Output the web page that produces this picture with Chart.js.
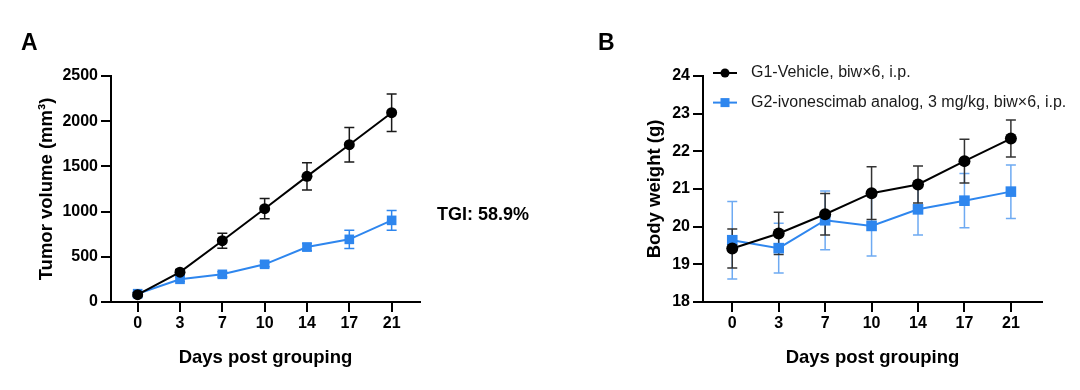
<!DOCTYPE html>
<html>
<head>
<meta charset="utf-8">
<script src="https://cdn.jsdelivr.net/npm/chart.js@4.4.1/dist/chart.umd.min.js"></script>
<style>
  html, body { margin: 0; padding: 0; background: #fff; }
  #wrap { position: relative; width: 1080px; height: 390px; overflow: hidden; background: #fff; }
  .pane { position: absolute; top: 0; width: 540px; height: 390px; }
</style>
</head>
<body>
<div id="wrap">
  <div class="pane" style="left:0"><canvas id="cA" width="540" height="390"></canvas></div>
  <div class="pane" style="left:540px"><canvas id="cB" width="540" height="390"></canvas></div>
</div>
<script>
// ---------- data ----------
const days = ["0", "3", "7", "10", "14", "17", "21"];

const tumorVehicle    = [81, 330, 678, 1032, 1390, 1740, 2094];
const tumorVehicleErr = [20, 30, 83, 112, 151, 190, 207];
const tumorTreated    = [92, 251, 306, 417, 608, 693, 903];
const tumorTreatedErr = [18, 25, 30, 28, 40, 100, 109];

const weightVehicle    = [19.42, 19.82, 20.33, 20.89, 21.12, 21.74, 22.34];
const weightVehicleErr = [0.52, 0.56, 0.55, 0.70, 0.49, 0.58, 0.49];
const weightTreated    = [19.64, 19.43, 20.17, 20.02, 20.46, 20.69, 20.93];
const weightTreatedErr = [1.03, 0.66, 0.78, 0.80, 0.68, 0.72, 0.71];

const tumorTicks  = [0, 500, 1000, 1500, 2000, 2500];
const weightTicks = [18, 19, 20, 21, 22, 23, 24];

const seriesNames = ["G1-Vehicle, biw\u00d76, i.p.", "G2-ivonescimab analog, 3 mg/kg, biw\u00d76, i.p."];
const panelA = "A", panelB = "B";
const tgiText = "TGI: 58.9%";
const xTitle = "Days post grouping";
const yTitleA = "Tumor volume (mm\u00b3)";
const yTitleB = "Body weight (g)";

// ---------- styles ----------
const FONT = "'Liberation Sans', Arial, Helvetica, sans-serif";
const BLACK = "#000000";
const BLUE = "#2e86ee";

function toXY(arr) { return arr.map((v, i) => ({ x: i, y: v })); }

const errorBarPlugin = {
  id: 'errbars',
  beforeDatasetsDraw(chart, args, opts) {
    const ctx = chart.ctx;
    const xs = chart.scales.x, ys = chart.scales.y;
    const errs = opts.errors || [];
    for (let d = chart.data.datasets.length - 1; d >= 0; d--) {
      const ds = chart.data.datasets[d];
      const e = errs[d]; if (!e) continue;
      ctx.save();
      ctx.strokeStyle = opts.colors[d];
      ctx.lineWidth = opts.width || 1.5;
      const cap = opts.cap || 5;
      ds.data.forEach((p, i) => {
        const x = xs.getPixelForValue(p.x);
        const yt = ys.getPixelForValue(p.y + e[i]);
        const yb = ys.getPixelForValue(p.y - e[i]);
        ctx.beginPath();
        ctx.moveTo(x, yt); ctx.lineTo(x, yb);
        ctx.moveTo(x - cap, yt); ctx.lineTo(x + cap, yt);
        ctx.moveTo(x - cap, yb); ctx.lineTo(x + cap, yb);
        ctx.stroke();
      });
      ctx.restore();
    }
  }
};

const textPlugin = {
  id: 'texts',
  afterDraw(chart, args, opts) {
    const ctx = chart.ctx;
    (opts.items || []).forEach(t => {
      ctx.save();
      ctx.font = t.font;
      ctx.fillStyle = t.color || '#000';
      ctx.textAlign = t.align || 'left';
      ctx.textBaseline = 'middle';
      ctx.fillText(t.text, t.x(chart), t.y(chart));
      ctx.restore();
    });
  }
};

const legendPlugin = {
  id: 'customLegend',
  afterDraw(chart, args, opts) {
    if (!opts.show) return;
    const ctx = chart.ctx;
    const area = chart.chartArea;
    chart.data.datasets.forEach((ds, i) => {
      const y = opts.top + i * opts.rowGap;
      const x0 = area.left + opts.lineStart;
      const x1 = x0 + opts.lineLen;
      const xm = (x0 + x1) / 2;
      ctx.save();
      ctx.strokeStyle = ds.borderColor;
      ctx.fillStyle = ds.borderColor;
      ctx.lineWidth = 2;
      ctx.beginPath(); ctx.moveTo(x0, y); ctx.lineTo(x1, y); ctx.stroke();
      if (ds.pointStyle === 'rect') {
        ctx.fillRect(xm - 4.5, y - 4.5, 9, 9);
      } else {
        ctx.beginPath(); ctx.arc(xm, y, 4.5, 0, Math.PI * 2); ctx.fill();
      }
      ctx.font = "16px " + FONT;
      ctx.fillStyle = '#1a1a1a';
      ctx.textAlign = 'left';
      ctx.textBaseline = 'middle';
      ctx.fillText(ds.label, x1 + opts.textGap, y);
      ctx.restore();
    });
  }
};

function makeOptions(cfg) {
  return {
    responsive: false,
    devicePixelRatio: 1,
    animation: false,
    layout: { padding: { top: 76, right: cfg.padRight, bottom: 0, left: 0 } },
    plugins: {
      legend: { display: false },
      tooltip: { enabled: false },
      errbars: cfg.errbars,
      texts: { items: cfg.texts },
      customLegend: cfg.legend || { show: false }
    },
    scales: {
      x: {
        type: 'linear',
        min: -0.63, max: 6.67,
        afterBuildTicks: (s) => { s.ticks = days.map((d, i) => ({ value: i })); },
        afterFit: (s) => { s.height = 88; },
        ticks: {
          autoSkip: false, maxRotation: 0, padding: 2,
          color: '#000',
          font: { family: FONT, size: 16, weight: 'bold' },
          callback: (v) => days[v]
        },
        grid: { drawOnChartArea: false, drawTicks: true, tickLength: 10, color: '#000', lineWidth: 2 },
        border: { display: true, color: '#000', width: 2 },
        title: {
          display: true, text: xTitle, color: '#000',
          font: { family: FONT, size: 18.5, weight: 'bold' },
          padding: { top: 0, bottom: 21 }
        }
      },
      y: {
        type: 'linear',
        min: cfg.yTicks[0], max: cfg.yTicks[cfg.yTicks.length - 1],
        afterBuildTicks: (s) => { s.ticks = cfg.yTicks.map(v => ({ value: v })); },
        afterFit: (s) => { s.width = cfg.yWidth; },
        ticks: {
          autoSkip: false, padding: 3, color: '#000',
          font: { family: FONT, size: 16, weight: 'bold' },
          callback: (v) => String(v)
        },
        grid: { drawOnChartArea: false, drawTicks: true, tickLength: 10, color: '#000', lineWidth: 2 },
        border: { display: true, color: '#000', width: 2 },
        title: {
          display: true, text: cfg.yTitle, color: '#000',
          font: { family: FONT, size: 18.5, weight: 'bold' },
          padding: { top: cfg.yTitlePad, bottom: 0 }
        }
      }
    }
  };
}

function makeDatasets(v1, v2, r1, r2) {
  return [
    {
      label: seriesNames[0], data: toXY(v1),
      borderColor: BLACK, backgroundColor: BLACK, borderWidth: 2,
      pointStyle: 'circle', pointRadius: r1, pointBorderWidth: 0,
      pointBackgroundColor: BLACK, tension: 0, clip: false
    },
    {
      label: seriesNames[1], data: toXY(v2),
      borderColor: BLUE, backgroundColor: BLUE, borderWidth: 2,
      pointStyle: 'rect', pointRadius: r2, pointBorderWidth: 0,
      pointBackgroundColor: BLUE, tension: 0, clip: false
    }
  ];
}

// Panel A
new Chart(document.getElementById('cA'), {
  type: 'line',
  data: { datasets: makeDatasets(tumorVehicle, tumorTreated, 5.5, 6.8) },
  options: makeOptions({
    padRight: 120, yWidth: 111, yTitle: yTitleA, yTitlePad: 36, yTicks: tumorTicks,
    errbars: { errors: [tumorVehicleErr, tumorTreatedErr], colors: ['#1a1a1a', BLUE], width: 1.5, cap: 5 },
    texts: [
      { text: panelA, font: "bold 23px " + FONT, x: () => 21, y: () => 44 },
      { text: tgiText, font: "bold 18px " + FONT, x: (c) => c.chartArea.right + 17, y: () => 215 }
    ]
  }),
  plugins: [errorBarPlugin, textPlugin, legendPlugin]
});

// Panel B
new Chart(document.getElementById('cB'), {
  type: 'line',
  data: { datasets: makeDatasets(weightVehicle, weightTreated, 6, 7.5) },
  options: makeOptions({
    padRight: 38, yWidth: 163, yTitle: yTitleB, yTitlePad: 104, yTicks: weightTicks,
    errbars: { errors: [weightVehicleErr, weightTreatedErr], colors: ['#333333', '#6eaaf2'], width: 1.5, cap: 5 },
    texts: [
      { text: panelB, font: "bold 23px " + FONT, x: () => 58, y: () => 44 }
    ],
    legend: { show: true, top: 73, rowGap: 29.6, lineStart: 10, lineLen: 24, textGap: 14 }
  }),
  plugins: [errorBarPlugin, textPlugin, legendPlugin]
});
</script>
</body>
</html>
